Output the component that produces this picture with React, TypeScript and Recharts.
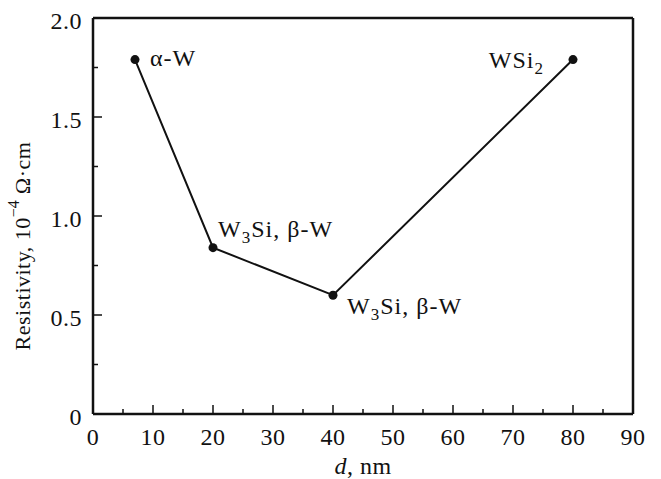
import { LineChart, Line, XAxis, YAxis, ReferenceLine, Label } from "recharts";

const thickness = [7, 20, 40, 80];
const resistivity = [1.79, 0.84, 0.6, 1.79];
const phases = ["α-W", "W_3Si, β-W", "W_3Si, β-W", "WSi_2"];

const xTicks = [0, 5, 10, 15, 20, 25, 30, 35, 40, 45, 50, 55, 60, 65, 70, 75, 80, 85, 90];
const xMajor = [0, 10, 20, 30, 40, 50, 60, 70, 80, 90];
const yTicks = [0, 0.25, 0.5, 0.75, 1, 1.25, 1.5, 1.75, 2];
const yMajor = ["0", "0.5", "1.0", "1.5", "2.0"];

const data = thickness.map((d, i) => ({ d, r: resistivity[i], phase: phases[i] }));

// label offsets for each point (dx, dy, anchor)
const labelPos = [
  { dx: 15, dy: 6, anchor: "start" },
  { dx: 5, dy: -11, anchor: "start" },
  { dx: 14, dy: 19, anchor: "start" },
  { dx: -29, dy: 8, anchor: "end" },
];

const font = (size: number, spacing = 0) => ({ fontFamily: "Liberation Serif", fontSize: size, letterSpacing: spacing });

const renderRich = (s: string) => {
  const parts = s.split(/_(\d)/);
  return parts.map((p, i) =>
    i % 2 === 1 ? (
      <tspan key={i} style={font(17, 1)} dy={6}>{p}</tspan>
    ) : i > 0 ? (
      <tspan key={i} dy={-6}>{p}</tspan>
    ) : (
      <tspan key={i}>{p}</tspan>
    )
  );
};

const XTick = (props: any) => {
  const { x, y, payload } = props;
  const major = xMajor.includes(payload.value);
  return (
    <g>
      <line x1={x} x2={x} y1={y} y2={y - (major ? 9 : 5)} stroke="#111" strokeWidth={1.5} />
      {major && (
        <text x={x} y={y + 31} textAnchor="middle" style={font(24, 0.5)} fill="#111">
          {payload.value}
        </text>
      )}
    </g>
  );
};

const YTick = (props: any) => {
  const { x, y, payload } = props;
  const v = payload.value;
  const idx = [0, 0.5, 1, 1.5, 2].indexOf(v);
  return (
    <g>
      <line x1={x} x2={x + (idx >= 0 ? 9 : 5)} y1={y} y2={y} stroke="#111" strokeWidth={1.5} />
      {idx >= 0 && (
        <text x={x - 11} y={y + 11} textAnchor="end" style={font(24, 0.5)} fill="#111">
          {yMajor[idx]}
        </text>
      )}
    </g>
  );
};

const PointLabel = (props: any) => {
  const { x, y, index } = props;
  const p = labelPos[index];
  return (
    <text x={x + p.dx} y={y + p.dy} textAnchor={p.anchor} style={font(24, 1)} fill="#111">
      {renderRich(phases[index])}
    </text>
  );
};

export default function App() {
  return (
    <div style={{ position: "absolute", left: 0, top: 0, background: "#fff" }}>
      <LineChart width={661} height={479} data={data} margin={{ top: 18, right: 28, left: 0, bottom: 0 }}>
        <XAxis
          dataKey="d"
          type="number"
          domain={[0, 90]}
          ticks={xTicks}
          interval={0}
          height={65}
          tickSize={0}
          tickMargin={0}
          tickLine={false}
          tick={<XTick />}
          axisLine={{ stroke: "#111", strokeWidth: 2.5 }}
        >
          <Label
            content={() => (
              <text x={363} y={474} textAnchor="middle" style={font(24, 0.5)} fill="#111">
                <tspan fontStyle="italic">d</tspan>, nm
              </text>
            )}
          />
        </XAxis>
        <YAxis
          type="number"
          domain={[0, 2]}
          ticks={yTicks}
          interval={0}
          width={93}
          tickSize={0}
          tickMargin={0}
          tickLine={false}
          tick={<YTick />}
          axisLine={{ stroke: "#111", strokeWidth: 2.5 }}
        >
          <Label
            content={() => (
              <text
                x={22}
                y={246}
                transform="rotate(-90 22 246)"
                textAnchor="middle"
                dominantBaseline="central"
                style={font(22, 0.5)}
                fill="#111"
              >
                Resistivity, 10<tspan style={font(16)} dy={-9}>−4</tspan>
                <tspan dy={9}> Ω·cm</tspan>
              </text>
            )}
          />
        </YAxis>
        <ReferenceLine y={2} stroke="#111" strokeWidth={2.5} ifOverflow="extendDomain" />
        <ReferenceLine x={90} stroke="#111" strokeWidth={2.5} ifOverflow="extendDomain" />
        <Line
          dataKey="r"
          stroke="#111"
          strokeWidth={2}
          isAnimationActive={false}
          dot={{ r: 4.5, fill: "#111", stroke: "#111", strokeWidth: 0 }}
          activeDot={false}
          label={<PointLabel />}
        />
      </LineChart>
    </div>
  );
}
